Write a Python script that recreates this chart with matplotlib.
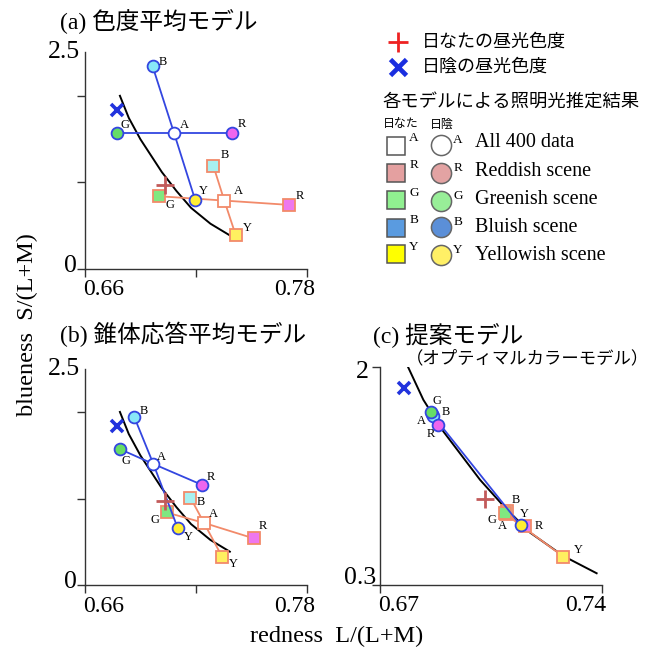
import matplotlib
matplotlib.use('Agg')
import matplotlib.pyplot as plt
from matplotlib.lines import Line2D

SERIF = ['Liberation Serif', 'Noto Sans CJK JP']
JP = ['Noto Sans CJK JP', 'DejaVu Sans']
plt.rcParams['font.family'] = SERIF

# ---------------- data ----------------
scenes = ['A', 'R', 'G', 'B', 'Y']
scene_names = ['All 400 data', 'Reddish scene', 'Greenish scene', 'Bluish scene', 'Yellowish scene']

# daylight locus (black curve)
locus_x = [0.6789, 0.6837, 0.6900, 0.7016, 0.7095, 0.7174, 0.7279, 0.7384]
locus_y = [2.000, 1.745, 1.498, 1.119, 0.901, 0.706, 0.523, 0.388]

# daylight chromaticities
sun_daylight_x, sun_daylight_y = 0.7033, 0.97
shade_daylight_x, shade_daylight_y = 0.6775, 1.84

# (a) chromaticity-average model  (order A, R, G, B, Y)
a_sun_x = [0.7354, 0.7706, 0.7002, 0.7295, 0.7416]
a_sun_y = [0.79, 0.74, 0.84, 1.19, 0.39]
a_shade_x = [0.7082, 0.7394, 0.6772, 0.6966, 0.7196]
a_shade_y = [1.57, 1.57, 1.57, 2.34, 0.80]

# (b) cone-response-average model
b_sun_x = [0.7244, 0.7515, 0.7042, 0.7171, 0.7342]
b_sun_y = [0.72, 0.54, 0.84, 1.01, 0.33]
b_shade_x = [0.6970, 0.7232, 0.6790, 0.6867, 0.7102]
b_shade_y = [1.40, 1.16, 1.57, 1.94, 0.66]

# (c) proposed model (optimal colour model)
c_sun_x = [0.7098, 0.7158, 0.7095, 0.7101, 0.7279]
c_sun_y = [0.848, 0.757, 0.862, 0.872, 0.518]
c_shade_x = [0.6864, 0.6884, 0.6861, 0.6868, 0.7144]
c_shade_y = [1.632, 1.550, 1.649, 1.617, 0.763]

# ---------------- styles ----------------
W, H = 667, 647
ORANGE = '#f28a6a'
BLUE = '#3346e0'
SQ_FILL = ['white', '#ee77ee', '#80e880', '#a8f0f0', '#fff060']
CI_FILL = ['white', '#ee66ee', '#66dd66', '#88e8f8', '#ffee33']
LEG_SQ = ['white', '#e4a0a0', '#90f090', '#5a9be0', '#ffff00']
LEG_CI = ['white', '#e3a3a3', '#98ee98', '#5b8fd8', '#fff066']
AXC = '#333333'


def fx(px):
    return px / W


def fy(py):
    return 1 - py / H


fig = plt.figure(figsize=(W / 100, H / 100), dpi=100)


def setup(ax, xlim, ylim, xt, yt):
    ax.set_xlim(*xlim)
    ax.set_ylim(*ylim)
    for s in ['top', 'right']:
        ax.spines[s].set_visible(False)
    for s in ['left', 'bottom']:
        ax.spines[s].set_color(AXC)
        ax.spines[s].set_linewidth(1.0)
    ax.set_xticks(xt)
    ax.set_yticks(yt)
    ax.set_xticklabels([])
    ax.set_yticklabels([])
    ax.tick_params(direction='out', length=6, width=1.0, color=AXC)
    ax.patch.set_visible(False)


def tlabel(ax, text, xy, coords, off, ha, size):
    ax.annotate(text, xy=xy, xycoords=coords, xytext=off, textcoords='offset pixels',
                ha=ha, va='center', fontsize=size, family=SERIF, annotation_clip=False)


def draw(ax, sx, sy, hx, hy, soff, hoff, sq_order, ci_order):
    ax.plot(locus_x, locus_y, color='black', lw=1.4, zorder=1.5)
    for i in range(1, 5):
        ax.plot([sx[0], sx[i]], [sy[0], sy[i]], color=ORANGE, lw=1.3, zorder=2)
    for i in sq_order:
        ax.plot(sx[i], sy[i], marker='s', ms=8, mfc=SQ_FILL[i], mec=ORANGE, mew=1.3,
                ls='none', zorder=3)
    for i in range(1, 5):
        ax.plot([hx[0], hx[i]], [hy[0], hy[i]], color=BLUE, lw=1.3, zorder=4)
    for i in ci_order:
        ax.plot(hx[i], hy[i], marker='o', ms=8.5, mfc=CI_FILL[i], mec=BLUE, mew=1.3,
                ls='none', zorder=5)
    ax.plot(sun_daylight_x, sun_daylight_y, marker='+', ms=13, mew=2.0, color='#c25a5a',
            ls='none', zorder=6)
    ax.plot(shade_daylight_x, shade_daylight_y, marker='x', ms=9, mew=2.6, color='#2233dd',
            ls='none', zorder=6)
    for i in range(5):
        ax.annotate(scenes[i], xy=(sx[i], sy[i]), xytext=soff[i], textcoords='offset pixels',
                    ha='center', va='center', fontsize=9, family=SERIF, zorder=7)
        ax.annotate(scenes[i], xy=(hx[i], hy[i]), xytext=hoff[i], textcoords='offset pixels',
                    ha='center', va='center', fontsize=9, family=SERIF, zorder=7)


# ---- panel (a)
ax_a = fig.add_axes([fx(85), fy(269), 221.7 / W, 216.5 / H])
setup(ax_a, (0.66, 0.78), (0, 2.5), [0.66, 0.72, 0.78], [0, 1, 2])
draw(ax_a, a_sun_x, a_sun_y, a_shade_x, a_shade_y,
     [(14, 10), (11, 9), (11, -9), (11, 11), (12, 7)],
     [(10, 8), (10, 9), (8, 8), (10, 4), (8, 9)],
     [0, 1, 2, 3, 4], [0, 1, 2, 3, 4])
tlabel(ax_a, '0.66', (0.66, 0), ('data', 'axes fraction'), (-2, -21), 'left', 17)
tlabel(ax_a, '0.78', (0.78, 0), ('data', 'axes fraction'), (8, -21), 'right', 17)
tlabel(ax_a, '0', (0, 0), ('axes fraction', 'data'), (-8, 3), 'right', 18.5)
tlabel(ax_a, '2.5', (0, 2.5), ('axes fraction', 'data'), (-5, 0), 'right', 18.5)

# ---- panel (b)
ax_b = fig.add_axes([fx(85), fy(585.3), 221.7 / W, 216.7 / H])
setup(ax_b, (0.66, 0.78), (0, 2.5), [0.66, 0.72, 0.78], [0, 1, 2])
draw(ax_b, b_sun_x, b_sun_y, b_shade_x, b_shade_y,
     [(9, 9), (9, 12), (-12, -8), (10, -4), (11, -7)],
     [(8, 7), (9, 8), (6, -12), (9, 6), (11, -9)],
     [0, 1, 2, 3, 4], [0, 1, 2, 3, 4])
tlabel(ax_b, '0.66', (0.66, 0), ('data', 'axes fraction'), (-2, -21), 'left', 17)
tlabel(ax_b, '0.78', (0.78, 0), ('data', 'axes fraction'), (8, -21), 'right', 17)
tlabel(ax_b, '0', (0, 0), ('axes fraction', 'data'), (-8, 3), 'right', 18.5)
tlabel(ax_b, '2.5', (0, 2.5), ('axes fraction', 'data'), (-5, 0), 'right', 18.5)

# ---- panel (c)
ax_c = fig.add_axes([fx(380), fy(584.5), 221.7 / W, 217.2 / H])
setup(ax_c, (0.67, 0.74), (0.3, 2.0), [0.67, 0.74], [0.3, 2.0])
draw(ax_c, c_sun_x, c_sun_y, c_shade_x, c_shade_y,
     [(-4, -12), (14, 0), (-13, -7), (9, 11), (15, 7)],
     [(-11, -7), (-7, -9), (6, 11), (13, 4), (4, 11)],
     [0, 3, 1, 4, 2], [0, 3, 2, 1, 4])
tlabel(ax_c, '0.67', (0.67, 0), ('data', 'axes fraction'), (-2, -21), 'left', 17)
tlabel(ax_c, '0.74', (0.74, 0), ('data', 'axes fraction'), (5, -21), 'right', 17)
tlabel(ax_c, '0.3', (0, 0.3), ('axes fraction', 'data'), (-4, 7), 'right', 18.5)
tlabel(ax_c, '2', (0, 2.0), ('axes fraction', 'data'), (-11, -5), 'right', 18.5)

# ---- titles
fig.text(fx(60), fy(22), '(a) 色度平均モデル', fontsize=17, ha='left', va='center', family=SERIF)
fig.text(fx(60), fy(334), '(b) 錐体応答平均モデル', fontsize=17, ha='left', va='center', family=SERIF)
fig.text(fx(373), fy(336), '(c) 提案モデル', fontsize=17, ha='left', va='center', family=SERIF)
fig.text(fx(406), fy(358), '（オプティマルカラーモデル）', fontsize=12.5, ha='left', va='center', family=JP)

# ---- axis labels
fig.text(fx(27), fy(325), 'blueness  S/(L+M)', rotation=90, fontsize=17.5, ha='center', va='center',
         family=SERIF)
fig.text(fx(337), fy(636), 'redness  L/(L+M)', fontsize=17.5, ha='center', va='center', family=SERIF)

# ---- legend
fig.add_artist(Line2D([fx(398)], [fy(42)], marker='+', ms=15, mew=2.0, color='#ee2222',
                      transform=fig.transFigure))
fig.add_artist(Line2D([fx(398)], [fy(67)], marker='x', ms=11, mew=3.4, color='#1a2ee0',
                      transform=fig.transFigure))
fig.text(fx(422), fy(42), '日なたの昼光色度', fontsize=13, ha='left', va='center', family=JP)
fig.text(fx(422), fy(67), '日陰の昼光色度', fontsize=13, ha='left', va='center', family=JP)
fig.text(fx(382), fy(102), '各モデルによる照明光推定結果', fontsize=13.2, ha='left', va='center', family=JP)
fig.text(fx(383), fy(124), '日なた', fontsize=8.6, ha='left', va='center', family=JP)
fig.text(fx(430), fy(124), '日陰', fontsize=8.6, ha='left', va='center', family=JP)

row_sq_y = [146, 173, 200.5, 227.5, 254.5]
row_ci_y = [145, 173.3, 200.7, 227.3, 255]
row_txt_y = [142.7, 171, 199.3, 227.7, 255]
for i in range(5):
    fig.add_artist(Line2D([fx(396)], [fy(row_sq_y[i])], marker='s', ms=13, mfc=LEG_SQ[i],
                          mec='#555555', mew=1.1, transform=fig.transFigure))
    fig.add_artist(Line2D([fx(440.7)], [fy(row_ci_y[i])], marker='o', ms=14.5, mfc=LEG_CI[i],
                          mec='#666666', mew=1.1, transform=fig.transFigure))
    fig.text(fx(414), fy(row_sq_y[i] - 8), scenes[i], fontsize=9.5, ha='center', va='center',
             family=SERIF)
    fig.text(fx(458), fy(row_ci_y[i] - 5), scenes[i], fontsize=9.5, ha='center', va='center',
             family=SERIF)
    fig.text(fx(475), fy(row_txt_y[i]), scene_names[i], fontsize=14.5, ha='left', va='center',
             family=SERIF)

fig.savefig('out.png', dpi=100)
